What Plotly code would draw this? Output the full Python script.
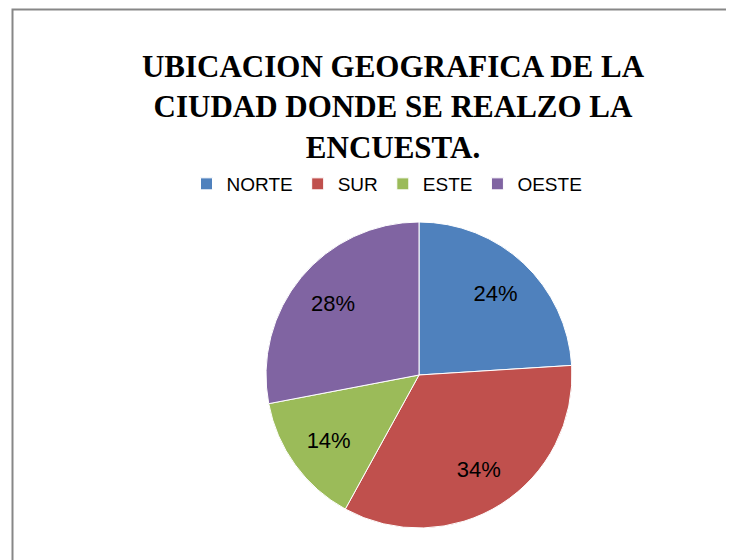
import plotly.graph_objects as go

# chart data
regiones = ['NORTE', 'SUR', 'ESTE', 'OESTE']
porcentajes = [24, 34, 14, 28]
colores = ['#4F81BD', '#C0504D', '#9BBB59', '#8064A2']

titulo = '<b>UBICACION GEOGRAFICA DE LA<br>CIUDAD DONDE SE REALZO LA<br>ENCUESTA.</b>'

# page body has an 8px margin, so the figure is drawn 8px in
W, H = 726, 552
cx, cy, r = 411, 367, 153
dom = dict(x=[(cx - r) / W, (cx + r) / W], y=[1 - (cy + r) / H, 1 - (cy - r) / H])

fig = go.Figure()

# coloured slices
fig.add_trace(go.Pie(
    labels=regiones,
    values=porcentajes,
    marker=dict(colors=colores, line=dict(color='white', width=1)),
    sort=False,
    direction='clockwise',
    rotation=0,
    textinfo='none',
    domain=dom,
    hoverinfo='label+percent',
))

# transparent ring on top only to push the % labels outwards like Excel does
fig.add_trace(go.Pie(
    labels=regiones,
    values=porcentajes,
    hole=0.46,
    marker=dict(colors=['rgba(0,0,0,0)'] * 4, line=dict(width=0)),
    sort=False,
    direction='clockwise',
    rotation=0,
    texttemplate='%{percent:.0%}',
    textposition='inside',
    insidetextorientation='horizontal',
    textfont=dict(family='Liberation Sans, Arial, sans-serif', size=22, color='#000000'),
    domain=dom,
    showlegend=False,
    hoverinfo='skip',
))

fig.update_layout(
    width=W,
    height=H,
    margin=dict(l=0, r=0, t=0, b=0),
    paper_bgcolor='white',
    plot_bgcolor='white',
    title=dict(
        text=titulo,
        x=385 / W,
        xanchor='center',
        y=1 - 69 / H,
        yanchor='top',
        font=dict(family='Liberation Serif, Times New Roman, serif', size=31, color='#000000'),
    ),
    legend=dict(
        orientation='h',
        x=379 / W,
        xanchor='center',
        y=1 - 157 / H,
        yanchor='top',
        font=dict(family='Liberation Sans, Arial, sans-serif', size=19, color='#000000'),
        traceorder='normal',
    ),
    shapes=[dict(
        type='rect', xref='paper', yref='paper',
        x0=4.5 / W, x1=1.05, y0=-0.05, y1=1 - 1.5 / H,
        line=dict(color='#878787', width=2),
        fillcolor='rgba(0,0,0,0)',
    )],
)

fig.write_html("out.html")
